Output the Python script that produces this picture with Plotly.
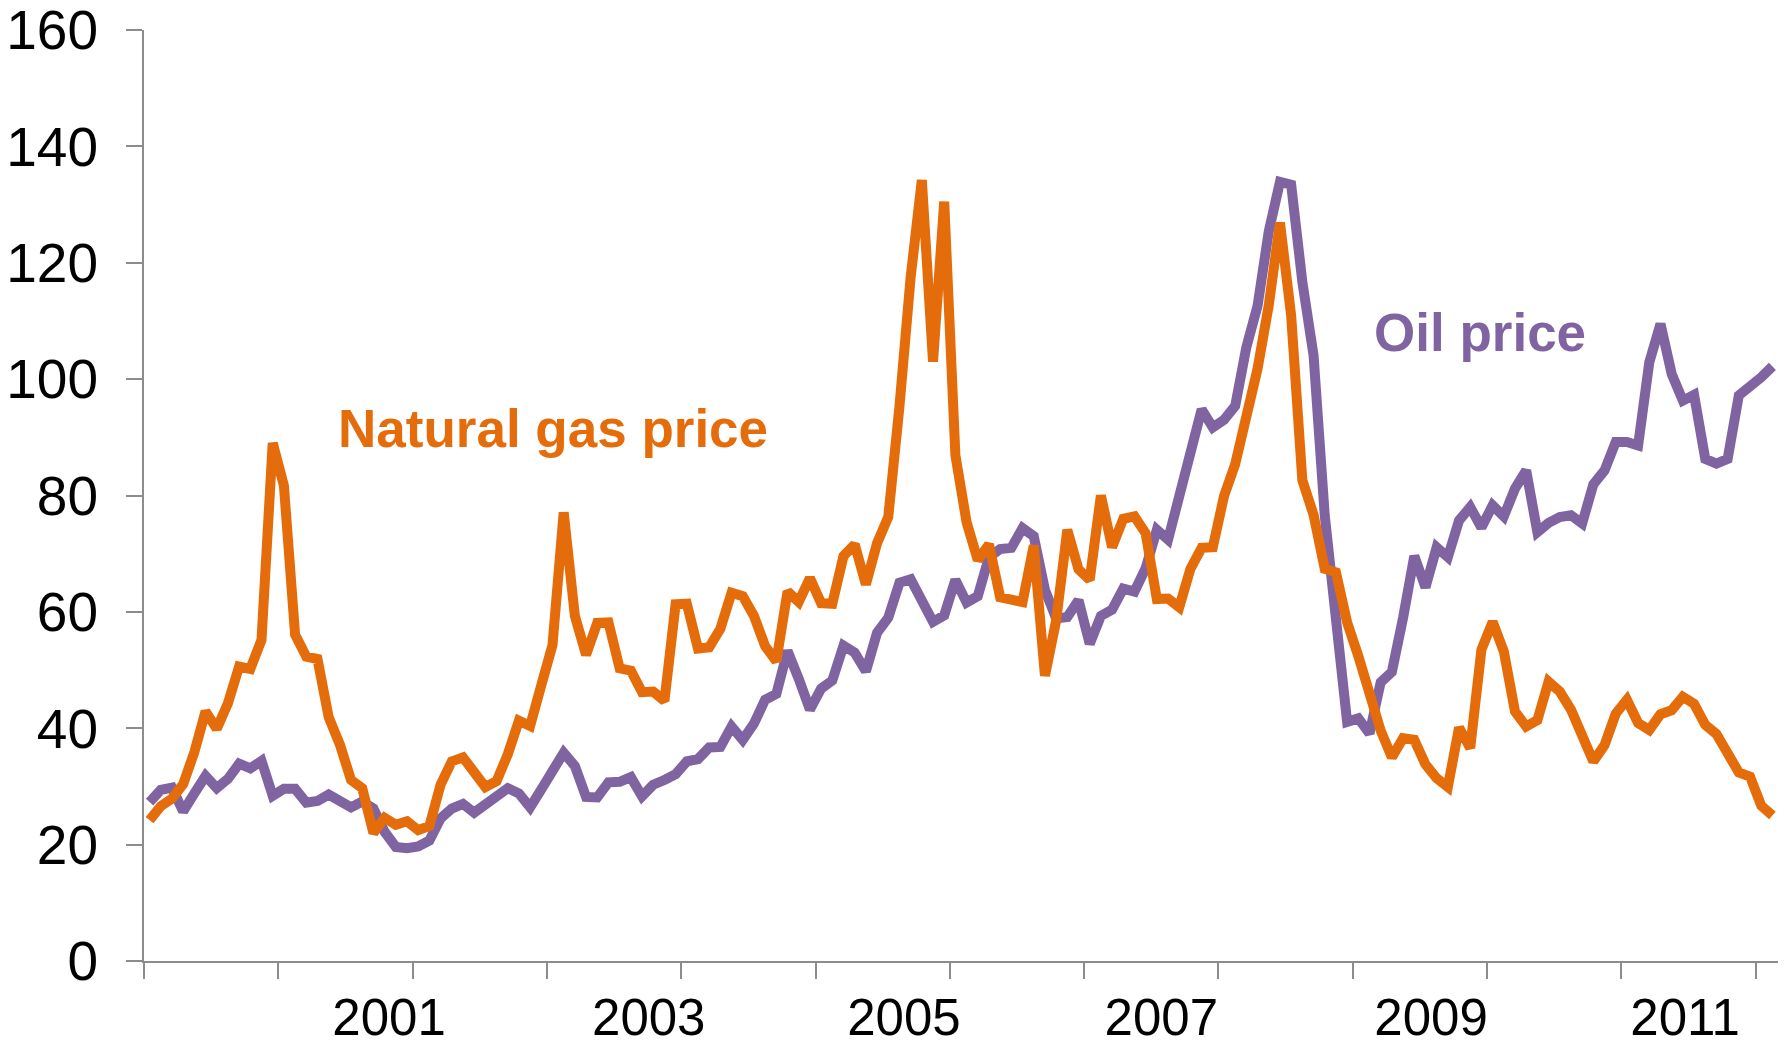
import plotly.graph_objects as go

# Monthly series, Jan 2000 .. Feb 2012
months = [f"{y}-{m:02d}" for y in range(2000, 2013) for m in range(1, 13)][:146]

oil_price = [
    27.3, 29.4, 29.8, 25.7, 28.8, 31.8, 29.7, 31.3, 33.9, 33.1, 34.4, 28.4,   # 2000
    29.6, 29.6, 27.2, 27.5, 28.6, 27.6, 26.4, 27.4, 26.2, 22.2, 19.6, 19.4,   # 2001
    19.7, 20.7, 24.5, 26.2, 27.0, 25.5, 27.0, 28.4, 29.7, 28.8, 26.4, 29.5,   # 2002
    33.0, 35.8, 33.5, 28.2, 28.1, 30.7, 30.8, 31.6, 28.3, 30.3, 31.1, 32.1,   # 2003
    34.3, 34.7, 36.7, 36.8, 40.3, 38.0, 40.8, 44.9, 45.9, 53.3, 48.5, 43.2,   # 2004
    46.8, 48.2, 54.2, 53.0, 49.8, 56.4, 59.0, 65.0, 65.6, 62.3, 58.3, 59.4,   # 2005
    65.5, 61.6, 62.7, 69.4, 70.8, 71.0, 74.4, 73.0, 63.8, 58.9, 59.1, 62.0,   # 2006
    54.5, 59.3, 60.4, 64.0, 63.5, 67.5, 74.1, 72.4, 79.9, 85.8, 94.8, 91.7,   # 2007
    93.0, 95.4, 105.5, 112.6, 125.4, 133.9, 133.4, 116.7, 104.1, 76.6, 57.3, 41.1,  # 2008
    41.7, 39.1, 47.9, 49.7, 59.0, 69.6, 64.2, 71.1, 69.4, 75.7, 78.0, 74.5,   # 2009
    78.3, 76.4, 81.2, 84.3, 73.7, 75.3, 76.3, 76.6, 75.2, 81.9, 84.3, 89.2,   # 2010
    89.2, 88.6, 102.9, 109.5, 100.9, 96.3, 97.3, 86.3, 85.5, 86.3, 97.2, 98.6,  # 2011
    100.3, 102.2,                                                             # 2012
]

gas_price = [
    24.2, 26.6, 27.9, 30.4, 35.9, 42.9, 39.9, 44.3, 50.6, 50.2, 55.2, 89.0,   # 2000
    81.7, 56.1, 52.3, 51.9, 41.9, 37.2, 31.1, 29.7, 22.0, 24.6, 23.4, 24.0,   # 2001
    22.5, 23.2, 30.3, 34.3, 35.0, 32.6, 29.9, 30.9, 35.5, 41.3, 40.4, 47.4,   # 2002
    54.3, 77.1, 59.3, 52.6, 58.1, 58.2, 50.3, 49.9, 46.2, 46.3, 44.7, 61.3,   # 2003
    61.4, 53.7, 53.9, 57.1, 63.3, 62.7, 59.3, 54.1, 51.5, 63.5, 61.7, 65.8,   # 2004
    61.5, 61.4, 69.6, 71.6, 64.7, 71.8, 76.3, 95.3, 117.5, 134.2, 103.0, 130.5,  # 2005
    86.9, 75.4, 68.9, 71.6, 62.5, 62.1, 61.7, 71.4, 49.0, 58.5, 74.1, 67.3,   # 2006
    65.5, 80.0, 71.1, 76.0, 76.4, 73.5, 62.2, 62.3, 60.8, 67.4, 71.0, 71.1,   # 2007
    79.9, 85.4, 94.1, 101.8, 112.7, 126.9, 110.9, 82.6, 76.7, 67.4, 66.8, 58.2,  # 2008
    52.4, 45.2, 39.6, 35.0, 38.3, 38.0, 33.8, 31.4, 29.9, 40.1, 36.6, 53.5,   # 2009
    58.3, 53.2, 42.9, 40.3, 41.4, 48.0, 46.3, 43.2, 38.9, 34.3, 37.1, 42.5,   # 2010
    44.9, 40.9, 39.7, 42.4, 43.1, 45.4, 44.2, 40.6, 39.0, 35.7, 32.4, 31.7,   # 2011
    26.7, 25.0,                                                               # 2012
]

year_labels = ["2001", "2003", "2005", "2007", "2009", "2011"]
year_label_pos = [21.4, 44.6, 67.4, 90.4, 114.5, 137.2]
y_ticks = [0, 20, 40, 60, 80, 100, 120, 140, 160]

ORANGE = "#E46C0A"
PURPLE = "#8064A2"
AXIS = "#8C8C8C"
FONT = "Liberation Sans, Arial, sans-serif"

x = list(range(len(months)))

fig = go.Figure()
fig.add_trace(go.Scatter(x=x, y=oil_price, mode="lines", name="Oil price",
                         customdata=months,
                         line=dict(color=PURPLE, width=10)))
fig.add_trace(go.Scatter(x=x, y=gas_price, mode="lines", name="Natural gas price",
                         customdata=months,
                         line=dict(color=ORANGE, width=10)))

fig.update_layout(
    width=1790, height=1045,
    margin=dict(l=144, r=12, t=30, b=84, autoexpand=False),
    paper_bgcolor="white", plot_bgcolor="white",
    showlegend=False,
    font=dict(family=FONT, color="black"),
)

fig.update_xaxes(
    automargin=False,
    range=[-0.5, 145.5],
    tickmode="array", tickvals=year_label_pos, ticktext=year_labels,
    ticks="", ticklen=0,
    tickfont=dict(size=51, color="black", family=FONT),
    ticklabelstandoff=11, ticklabeloverflow="allow",
    showline=True, linecolor=AXIS, linewidth=2,
    showgrid=False, zeroline=False,
    minor=dict(tick0=-0.5, dtick=12, ticks="outside", ticklen=16,
               tickcolor=AXIS, tickwidth=2, showgrid=False),
)

fig.update_yaxes(
    automargin=False,
    range=[0, 160],
    tickmode="array", tickvals=y_ticks,
    ticks="outside", ticklen=16, tickcolor=AXIS, tickwidth=2,
    tickfont=dict(size=55, color="black", family=FONT),
    ticklabelstandoff=17, ticklabeloverflow="allow",
    showline=True, linecolor=AXIS, linewidth=2,
    showgrid=False, zeroline=False,
)

fig.add_annotation(xref="paper", yref="paper", x=0.1175, y=0.5725,
                   xanchor="left", yanchor="middle", showarrow=False,
                   text="<b>Natural gas price</b>",
                   font=dict(size=53, color=ORANGE, family=FONT))
fig.add_annotation(xref="paper", yref="paper", x=0.7515, y=0.6755,
                   xanchor="left", yanchor="middle", showarrow=False,
                   text="<b>Oil price</b>",
                   font=dict(size=53, color=PURPLE, family=FONT))

fig.write_html("out.html",
               config={"displayModeBar": False},
               post_script="document.body.style.margin='0';document.body.style.overflow='hidden';")
